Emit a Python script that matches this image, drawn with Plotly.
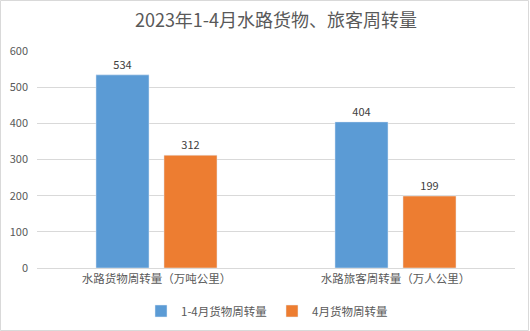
import plotly.graph_objects as go

categories = ["水路货物周转量（万吨公里）", "水路旅客周转量（万人公里）"]
series_names = ["1-4月货物周转量", "4月货物周转量"]
values_total = [534, 404]
values_april = [312, 199]
colors = ["#5B9BD5", "#ED7D31"]
yticks = [0, 100, 200, 300, 400, 500, 600]

W, H = 530, 331
L, R, T, B = 37, 15, 51, 63
pw, ph = W - L - R, H - T - B

fig = go.Figure()
for name, vals, c in zip(series_names, [values_total, values_april], colors):
    fig.add_trace(go.Bar(
        x=categories, y=vals, name=name, marker_color=c,
        text=[str(v) for v in vals], textposition="outside",
        textfont=dict(size=11, color="#404040"), cliponaxis=False,
    ))

font_family = "Noto Sans CJK SC, Liberation Sans, sans-serif"
fig.update_layout(
    width=W, height=H,
    margin=dict(l=L, r=R, t=T, b=B, autoexpand=False),
    paper_bgcolor="white", plot_bgcolor="white",
    font=dict(family=font_family, color="#595959", size=11),
    title=dict(text="2023年1-4月水路货物、旅客周转量", x=0.5, xanchor="center",
               xref="paper", y=1 - 20.5 / H, yanchor="middle",
               font=dict(size=18, color="#595959")),
    barmode="group", bargap=0.431, bargroupgap=0.22,
    showlegend=True,
    legend=dict(orientation="h", xref="paper", x=(141 - L) / pw, xanchor="left",
                yref="container", y=(H - 311) / H, yanchor="middle",
                font=dict(size=11.5, color="#595959"), itemwidth=30,
                entrywidth=86, entrywidthmode="pixels", traceorder="normal"),
    xaxis=dict(showline=True, linecolor="#D9D9D9", linewidth=1, ticks="",
               tickfont=dict(size=11.5, color="#595959"), automargin=False),
    yaxis=dict(range=[0, 600], tickvals=yticks, showgrid=True, gridcolor="#D9D9D9",
               zeroline=False, ticks="", tickfont=dict(size=11, color="#595959"),
               ticklabelstandoff=8, automargin=False),
    shapes=[dict(type="rect", xref="paper", yref="paper",
                 x0=-(L - 0.5) / pw, x1=(pw + R - 1.5) / pw,
                 y0=-(B - 0.5) / ph, y1=(ph + T - 0.5) / ph,
                 line=dict(color="#D9D9D9", width=1))],
)
fig.write_html("out.html")
